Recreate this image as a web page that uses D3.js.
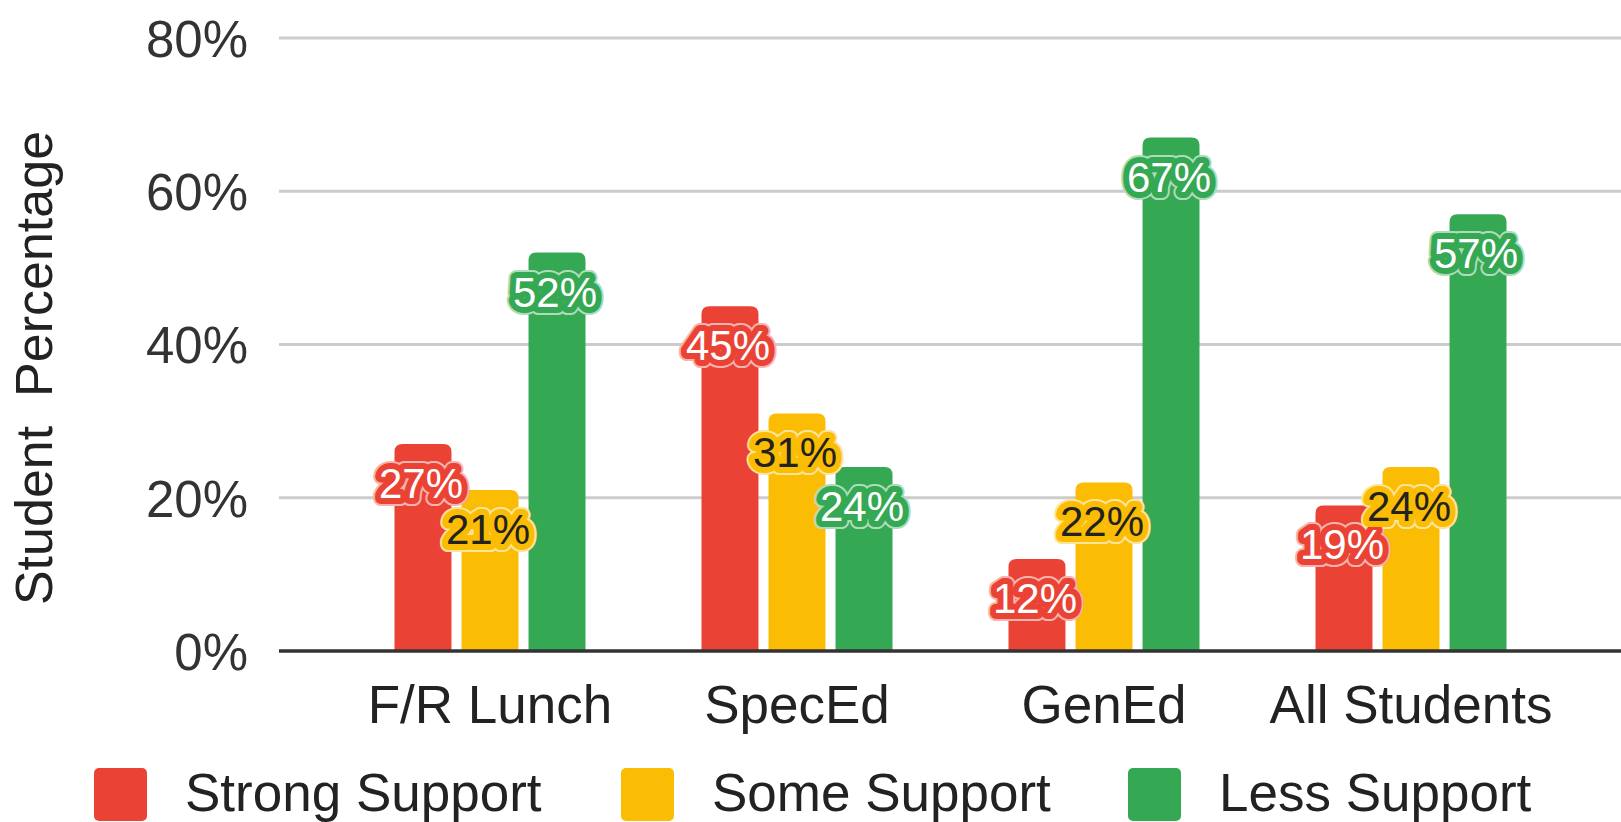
<!DOCTYPE html>
<html>
<head>
<meta charset="utf-8">
<script src="https://cdn.jsdelivr.net/npm/d3@7"></script>
<style>
  html, body { margin: 0; padding: 0; background: #fff; }
  svg { display: block; }
  text { font-family: "Liberation Sans", Arial, sans-serif; }
</style>
</head>
<body>
<svg id="chart" width="1621" height="822"></svg>
<script>
// ---- data ----
const categories = ["F/R Lunch", "SpecEd", "GenEd", "All Students"];
const seriesNames = ["Strong Support", "Some Support", "Less Support"];
const strongSupport = [27, 45, 12, 19];
const someSupport = [21, 31, 22, 24];
const lessSupport = [52, 24, 67, 57];
const yTicks = [0, 20, 40, 60, 80];
const seriesColors = ["#ea4335", "#fbbc04", "#34a853"];
const labelFill = ["#ffffff", "#222222", "#ffffff"];

const seriesValues = [strongSupport, someSupport, lessSupport];

const svg = d3.select("#chart");
const W = 1621, H = 822;

const x0 = d3.scaleBand().domain(categories).range([336.5, 1564.5]).padding(0);
const groupW = 191;
const x1 = d3.scaleBand().domain(seriesNames).range([0, groupW]).paddingInner(0.15);
const y = d3.scaleLinear().domain([0, 80]).range([651, 38]);

// gridlines
const gridG = svg.append("g");
gridG.selectAll("line").data(yTicks.filter(d => d !== 0)).join("line")
  .attr("x1", 279).attr("x2", W)
  .attr("y1", d => y(d)).attr("y2", d => y(d))
  .attr("stroke", "#cccccc").attr("stroke-width", 3);

// y axis via d3 axis (labels only)
const yAxis = svg.append("g").attr("transform", "translate(248,0)")
  .call(d3.axisLeft(y).tickValues(yTicks).tickFormat(d => d + "%").tickSize(0).tickPadding(0));
yAxis.select(".domain").remove();
yAxis.selectAll("text")
  .attr("font-size", 51).attr("fill", "#333").attr("font-family", "Liberation Sans, Arial, sans-serif")
  .attr("dy", "0.36em");

// bars
function topRoundedRect(x, yTop, w, h, r) {
  r = Math.min(r, h, w / 2);
  const yb = yTop + h;
  return `M${x},${yb}V${yTop + r}Q${x},${yTop} ${x + r},${yTop}H${x + w - r}Q${x + w},${yTop} ${x + w},${yTop + r}V${yb}Z`;
}

const flat = [];
categories.forEach((c, ci) => {
  seriesNames.forEach((s, si) => {
    flat.push({ cat: c, series: s, si, value: seriesValues[si][ci] });
  });
});

const groupOffset = (x0.bandwidth() - groupW) / 2;
const bx = d => x0(d.cat) + groupOffset + x1(d.series);

svg.append("g").selectAll("path").data(flat).join("path")
  .attr("d", d => topRoundedRect(bx(d), y(d.value), x1.bandwidth(), y(0) - y(d.value), 8))
  .attr("fill", d => seriesColors[d.si]);

// baseline
svg.append("line")
  .attr("x1", 279).attr("x2", W).attr("y1", y(0)).attr("y2", y(0))
  .attr("stroke", "#333333").attr("stroke-width", 3.5);

// value labels with halo
const lblG = svg.append("g");
const lx = d => bx(d) + x1.bandwidth() / 2 - 2;
const ly = d => y(d.value) + 54;
lblG.selectAll("text.outer").data(flat).join("text")
  .attr("class", "outer")
  .attr("x", lx).attr("y", ly)
  .attr("text-anchor", "middle").attr("font-size", 42)
  .attr("fill", "none")
  .attr("stroke", d => d3.interpolateRgb(seriesColors[d.si], "#ffffff")(0.6))
  .attr("stroke-width", 16).attr("stroke-linejoin", "round")
  .text(d => d.value + "%");
lblG.selectAll("text.inner").data(flat).join("text")
  .attr("class", "inner")
  .attr("x", lx).attr("y", ly)
  .attr("text-anchor", "middle").attr("font-size", 42)
  .attr("fill", d => labelFill[d.si])
  .attr("stroke", d => seriesColors[d.si])
  .attr("stroke-width", 12).attr("stroke-linejoin", "round")
  .attr("paint-order", "stroke")
  .text(d => d.value + "%");

// x axis labels via d3 axis
const xAxis = svg.append("g").attr("transform", `translate(0,${y(0)})`)
  .call(d3.axisBottom(x0).tickSize(0).tickPadding(0));
xAxis.select(".domain").remove();
xAxis.selectAll("text")
  .attr("font-size", 53).attr("fill", "#222").attr("font-family", "Liberation Sans, Arial, sans-serif")
  .attr("dy", null).attr("y", 72);

// y axis title
svg.append("text")
  .attr("transform", "translate(52,368) rotate(-90)")
  .attr("text-anchor", "middle")
  .attr("font-size", 52).attr("fill", "#222")
  .style("white-space", "pre")
  .text("Student  Percentage");

// legend
const legendX = [94, 621, 1128];
const leg = svg.append("g");
seriesNames.forEach((s, i) => {
  leg.append("rect")
    .attr("x", legendX[i]).attr("y", 768).attr("width", 53).attr("height", 53)
    .attr("rx", 5).attr("fill", seriesColors[i]);
  leg.append("text")
    .attr("x", legendX[i] + 91).attr("y", 811)
    .attr("font-size", 53).attr("fill", "#222")
    .text(s);
});
</script>
</body>
</html>
